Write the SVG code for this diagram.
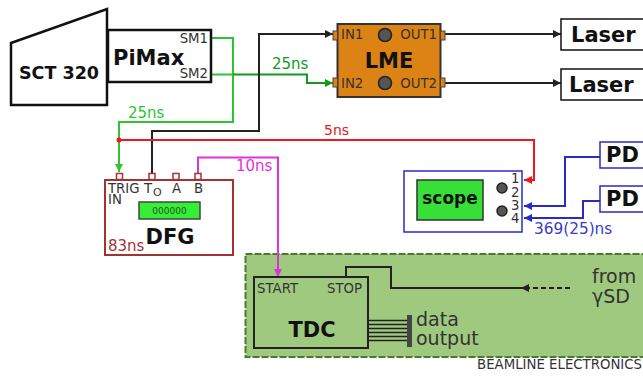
<svg xmlns="http://www.w3.org/2000/svg" width="643" height="376" viewBox="0 0 643 376">
<style>
text{font-family:"DejaVu Sans",Verdana,sans-serif;fill:#333}
.b{font-weight:bold;fill:#111}
.k{fill:none;stroke:#222;stroke-width:2}
.g{fill:none;stroke:#2fc42f;stroke-width:2}
.dg{fill:none;stroke:#119a1c;stroke-width:2}
.r{fill:none;stroke:#f01818;stroke-width:2}
.m{fill:none;stroke:#dd33dd;stroke-width:2}
.bl{fill:none;stroke:#2a2ac8;stroke-width:2}
.box{fill:#fff;stroke:#111;stroke-width:2}
.port{fill:#dd8214;stroke:#444;stroke-width:1}
.dport{fill:#fff;stroke:#a33333;stroke-width:1.5}
.knob{fill:#555;stroke:#222;stroke-width:1.5}
.s{font-size:13.300px}
.l{font-size:15px}
</style>
<defs>
<marker id="ak" markerWidth="9" markerHeight="9" refX="8" refY="4.500" orient="auto" markerUnits="userSpaceOnUse"><path d="M0 0.500L8 4.500L0 8.500z" fill="#222"/></marker>
<marker id="ag" markerWidth="9" markerHeight="9" refX="8" refY="4.500" orient="auto" markerUnits="userSpaceOnUse"><path d="M0 0.500L8 4.500L0 8.500z" fill="#2fc42f"/></marker>
<marker id="adg" markerWidth="9" markerHeight="9" refX="8" refY="4.500" orient="auto" markerUnits="userSpaceOnUse"><path d="M0 0.500L8 4.500L0 8.500z" fill="#119a1c"/></marker>
<marker id="ar" markerWidth="9" markerHeight="9" refX="8" refY="4.500" orient="auto" markerUnits="userSpaceOnUse"><path d="M0 0.500L8 4.500L0 8.500z" fill="#f01818"/></marker>
<marker id="am" markerWidth="9" markerHeight="9" refX="8" refY="4.500" orient="auto" markerUnits="userSpaceOnUse"><path d="M0 0.500L8 4.500L0 8.500z" fill="#dd33dd"/></marker>
<marker id="abl" markerWidth="9" markerHeight="9" refX="8" refY="4.500" orient="auto" markerUnits="userSpaceOnUse"><path d="M0 0.500L8 4.500L0 8.500z" fill="#2a2ac8"/></marker>
</defs>

<g id="beamline">
<rect x="245.500" y="254" width="410" height="103" fill="#9fc97f" stroke="#4a7a30" stroke-width="2" stroke-dasharray="7 2"/>
<text x="642" y="369" class="s" text-anchor="end">BEAMLINE ELECTRONICS</text>
<text x="592" y="283" font-size="19">from</text>
<text x="592" y="303" font-size="19">γSD</text>
</g>

<g id="connectors">
<path class="g" d="M211 38H233V122H119V172" marker-end="url(#ag)"/>
<path class="g" d="M211 74.500H233"/>
<path class="dg" d="M233 74.500H307V83H333" marker-end="url(#adg)"/>
<path class="k" d="M152 173V131H259V34H333" marker-end="url(#ak)"/>
<path class="k" d="M444 34H561" marker-end="url(#ak)"/>
<path class="k" d="M444 83H561" marker-end="url(#ak)"/>
<path class="r" d="M119 140H534V180H524" marker-end="url(#ar)"/>
<circle cx="119" cy="140" r="2.500" fill="#f01818"/>
<path class="m" d="M198 173V157.500H278V277" marker-end="url(#am)"/>
<path class="bl" d="M600 157H565V206H524" marker-end="url(#abl)"/>
<path class="bl" d="M600 201H583V218H524" marker-end="url(#abl)"/>
<path class="k" d="M346 277V267H391V288H524"/>
<path class="k" d="M570 288H521" stroke-dasharray="5 3" marker-end="url(#ak)"/>
<path d="M368 320.500H408M368 324.500H408M368 328.500H408M368 332.500H408M368 336.500H408M368 340.500H408" fill="none" stroke="#222" stroke-width="1.500"/>
<rect x="407" y="315" width="5" height="32" fill="#444"/>
<text x="128" y="118" class="l" style="fill:#2fc42f">25ns</text>
<text x="272" y="69" class="l" style="fill:#119a1c">25ns</text>
<text x="324" y="135" font-size="14" style="fill:#e02020">5ns</text>
<text x="236" y="171" class="l" style="fill:#dd33dd">10ns</text>
<text x="534" y="234" font-size="15.300" style="fill:#3a3acc">369(25)ns</text>
<text x="416" y="326" font-size="19">data</text>
<text x="416" y="345" font-size="19">output</text>
</g>

<g id="sct320">
<path d="M11 43L107 9V105H11z" fill="#fff" stroke="#111" stroke-width="2.500"/>
<text x="19" y="79" class="b" font-size="17.500">SCT 320</text>
</g>

<g id="pimax">
<rect x="108" y="30" width="103" height="52" class="box" style="stroke-width:2.500"/>
<text x="113" y="65" class="b" font-size="21">PiMax</text>
<text x="208" y="43" class="s" text-anchor="end">SM1</text>
<text x="208" y="78" class="s" text-anchor="end">SM2</text>
</g>

<g id="lme">
<rect x="337.500" y="24" width="103" height="73" fill="#dd8214" stroke="#333" stroke-width="2"/>
<rect x="333" y="31" width="4.500" height="9" class="port"/>
<rect x="333" y="78" width="4.500" height="9" class="port"/>
<rect x="440.500" y="31" width="4.500" height="9" class="port"/>
<rect x="440.500" y="78" width="4.500" height="9" class="port"/>
<circle cx="385" cy="35" r="6.500" class="knob"/>
<circle cx="385" cy="83" r="6.500" class="knob"/>
<text x="341" y="39" class="s">IN1</text>
<text x="341" y="88" class="s">IN2</text>
<text x="437" y="39" class="s" text-anchor="end">OUT1</text>
<text x="437" y="88" class="s" text-anchor="end">OUT2</text>
<text x="389" y="68" class="b" font-size="21" text-anchor="middle">LME</text>
</g>

<g id="laser1">
<rect x="561" y="19" width="90" height="31" class="box" style="stroke-width:1.500"/>
<text x="571" y="42" class="b" font-size="21">Laser</text>
</g>
<g id="laser2">
<rect x="561" y="69" width="90" height="31" class="box" style="stroke-width:1.500"/>
<text x="569" y="92" class="b" font-size="21">Laser</text>
</g>

<g id="dfg">
<rect x="105" y="180" width="128" height="75" fill="#fff" stroke="#a33333" stroke-width="2"/>
<rect x="116.500" y="173.500" width="6" height="6" class="dport"/>
<rect x="149" y="173.500" width="6" height="6" class="dport"/>
<rect x="173" y="173.500" width="6" height="6" class="dport"/>
<rect x="195" y="173.500" width="6" height="6" class="dport"/>
<text x="108" y="193" class="s">TRIG</text>
<text x="108" y="204" class="s">IN</text>
<text x="144" y="193" class="s">T</text>
<text x="153" y="196" font-size="11">O</text>
<text x="172" y="193" class="s">A</text>
<text x="194" y="193" class="s">B</text>
<rect x="139" y="202" width="61" height="17" fill="#37ee37" stroke="#444" stroke-width="1.500"/>
<text x="169.500" y="214" font-size="9" text-anchor="middle" style="fill:#225522">000000</text>
<text x="170" y="244" class="b" font-size="21" text-anchor="middle">DFG</text>
<text x="108" y="251" class="l" style="fill:#a33333">83ns</text>
</g>

<g id="scope">
<rect x="404" y="171" width="118" height="61" fill="#fff" stroke="#2a2ac8" stroke-width="1.500"/>
<rect x="417" y="180" width="66" height="40" fill="#37e037" stroke="#333" stroke-width="1.500"/>
<text x="450" y="204" class="b" font-size="17" text-anchor="middle">scope</text>
<circle cx="502" cy="188" r="5" class="knob"/>
<circle cx="502" cy="211" r="5" class="knob"/>
<text x="511" y="183" class="s">1</text>
<text x="511" y="197" class="s">2</text>
<text x="511" y="210" class="s">3</text>
<text x="511" y="223" class="s">4</text>
</g>

<g id="pd1">
<rect x="600" y="142" width="50" height="26" class="box" style="stroke:#2a2ac8;stroke-width:1.500"/>
<text x="606" y="162" class="b" font-size="21">PD</text>
</g>
<g id="pd2">
<rect x="600" y="186" width="50" height="26" class="box" style="stroke:#2a2ac8;stroke-width:1.500"/>
<text x="606" y="206" class="b" font-size="21">PD</text>
</g>

<g id="tdc">
<rect x="254" y="277" width="114" height="71" fill="none" stroke="#222" stroke-width="2"/>
<text x="257" y="293" class="s">START</text>
<text x="327" y="293" class="s">STOP</text>
<text x="312" y="337" class="b" font-size="21" text-anchor="middle">TDC</text>
</g>
</svg>
